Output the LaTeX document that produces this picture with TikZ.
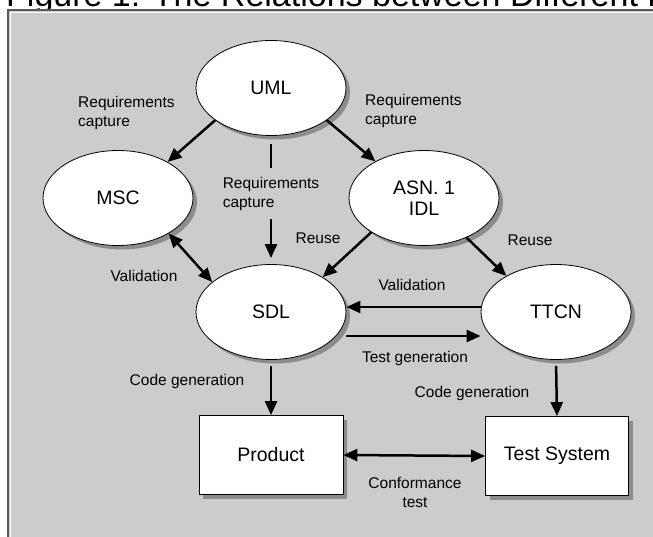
\documentclass[tikz,border=0pt]{standalone}
\usepackage{fontspec}
\setmainfont{Liberation Sans}
\usetikzlibrary{shapes.geometric,arrows.meta,shadows}
\definecolor{panel}{HTML}{CCCCCC}
\definecolor{shade}{HTML}{8C8C8C}

\begin{document}
\begin{tikzpicture}[x=1pt,y=-1pt,
	lang/.style={ellipse,draw,fill=white,line width=0.8pt,minimum width=150pt,minimum height=95pt,inner sep=0pt,align=center,font=\fontsize{19.5}{21}\selectfont,drop shadow={shadow xshift=4pt,shadow yshift=-4pt,fill=shade,opacity=1}},
	tool/.style={rectangle,draw,fill=white,line width=0.8pt,minimum width=144pt,minimum height=79pt,inner sep=0pt,font=\fontsize{19.5}{21}\selectfont,drop shadow={shadow xshift=4pt,shadow yshift=-4pt,fill=shade,opacity=1}},
	lbl/.style={inner sep=0pt,align=left,font=\fontsize{15.5}{19}\selectfont},
	flow/.style={line width=2.5pt,-{Triangle[length=14pt,width=12pt]}},
	both/.style={line width=2.5pt,{Triangle[length=14pt,width=12pt]}-{Triangle[length=14pt,width=12pt]}}]
		\clip (0, 0) rectangle (653, 537);
		
		\node[anchor=base west, inner sep=0pt, font=\fontsize{34}{40}\selectfont] (title) at (6, 7) {Figure 1: The Relations between Different L};
		
		\fill[panel] (8, 10) rectangle (660, 545);
		\draw[black!65, line width=1.5pt] (8, 545) -- (8, 10) -- (660, 10);
		\draw[white, line width=1pt] (10.5, 545) -- (10.5, 12.5) -- (660, 12.5);
		
		\node[lang] (uml) at (271, 88) {UML};
		\node[lang] (msc) at (118, 198) {MSC};
		\node[lang] (asn) at (424, 198) {ASN. 1\\IDL};
		\node[lang] (sdl) at (271, 312) {SDL};
		\node[lang] (ttcn) at (556, 312) {TTCN};
		
		\node[tool] (prod) at (271, 455) {Product};
		\node[tool, minimum width=143pt] (tsys) at (557, 456) {Test System};
		
		\draw[flow] (uml.210) -- (msc.36);
		\draw[flow] (uml.330) -- (asn.143);
		\draw[flow, shorten <=8pt, shorten >=6pt] (uml.south) -- node[lbl, pos=0.45, fill=panel, inner ysep=9pt, inner xsep=2pt] (lrc3) {Requirements\\capture} (sdl.north);
		\draw[both] (msc.325) -- (sdl.153);
		\draw[flow] (asn.213) -- (sdl.34);
		\draw[flow] (asn.317) -- (ttcn.144);
		\draw[flow] ([yshift=5pt]ttcn.west) -- ([yshift=5pt]sdl.east);
		\draw[flow] ([yshift=-24pt]sdl.east) -- ([yshift=-24pt]ttcn.west);
		\draw[flow, shorten <=6pt] (sdl.south) -- (prod.north);
		\draw[flow, shorten <=6pt] (ttcn.south) -- (tsys.north);
		\draw[both] (prod.east) -- (tsys.west);
		
		\node[lbl, anchor=west] (lrc1) at (78, 113) {Requirements\\capture};
		\node[lbl, anchor=west] (lrc2) at (365, 111) {Requirements\\capture};
		\node[lbl] (reuse1) at (318, 238) {Reuse};
		\node[lbl] (reuse2) at (530, 240) {Reuse};
		\node[lbl] (val1) at (144, 276) {Validation};
		\node[lbl] (val2) at (412, 285) {Validation};
		\node[lbl] (tgen) at (415, 358) {Test generation};
		\node[lbl] (cgen1) at (187, 381) {Code generation};
		\node[lbl] (cgen2) at (472, 393) {Code generation};
		\node[lbl, align=center] (conf) at (415, 492) {Conformance\\test};
	\end{tikzpicture}
\end{document}
